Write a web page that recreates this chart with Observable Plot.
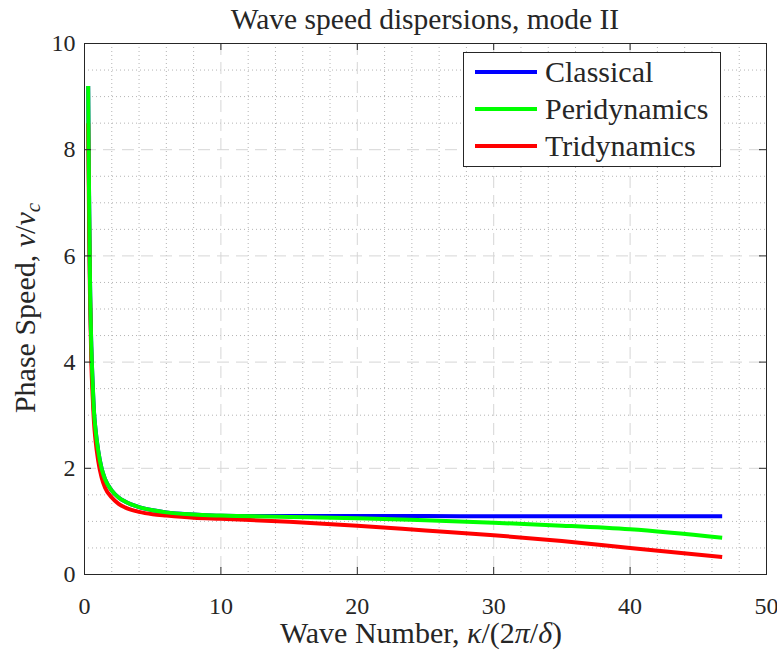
<!DOCTYPE html>
<html>
<head>
<meta charset="utf-8">
<script src="https://cdn.jsdelivr.net/npm/d3@7"></script>
<script src="https://cdn.jsdelivr.net/npm/@observablehq/plot@0.6"></script>
<style>
  html, body { margin: 0; padding: 0; background: #fff; }
  #wrap { position: relative; width: 777px; height: 651px; font-family: "Liberation Serif", "DejaVu Serif", "Noto Serif", serif; color: #262626; overflow: hidden; }
  #title { position: absolute; left: 84px; width: 682px; top: 1px; height: 36px; line-height: 36px; text-align: center; font-size: 29.5px; white-space: nowrap; }
  #chart { position: absolute; left: 0; top: 36px; }
  #xlabel { position: absolute; left: 80px; width: 682px; top: 618px; line-height: 30px; text-align: center; font-size: 30px; white-space: nowrap; }
  #ylabel { position: absolute; left: 25px; top: 308px; font-size: 30px; line-height: 30px; white-space: nowrap; transform: translate(-50%, -50%) rotate(-90deg); }
  #legend { position: absolute; left: 463px; top: 52px; width: 258px; height: 115px; box-sizing: border-box; background: #fff; border: 1px solid #262626; padding-top: 0px; }
  .row { display: flex; align-items: center; height: 37px; font-size: 30px; white-space: nowrap; }
  .row svg { margin-left: 11px; margin-right: 8px; }
  sub { font-size: 0.7em; vertical-align: -0.25em; line-height: 0; }
  svg text { font-family: "Liberation Serif", "DejaVu Serif", "Noto Serif", serif; }
</style>
</head>
<body>
<div id="wrap">
  <div id="title"></div>
  <div id="chart"></div>
  <div id="xlabel">Wave Number, <i>κ</i>/(2<i>π</i>/<i>δ</i>)</div>
  <div id="ylabel">Phase Speed, <i>v</i>/<i>v</i><sub><i>c</i></sub></div>
  <div id="legend"></div>
</div>
<script>
// ---- data ----
const titleText = "Wave speed dispersions, mode II";
const kappa = [0.27, 0.3, 0.35, 0.4, 0.5, 0.6, 0.7, 0.8, 1.0, 1.25, 1.5, 2, 2.5, 3, 4, 5, 6, 8, 10, 15, 20, 25, 30, 35, 40, 46.75];
const classical = [9.2, 8.1, 6.8, 5.6, 4.3, 3.6, 3.05, 2.75, 2.34, 2.0, 1.80, 1.58, 1.45, 1.37, 1.27, 1.21, 1.17, 1.13, 1.105, 1.10, 1.10, 1.10, 1.098, 1.098, 1.098, 1.098];
const peridynamics = [9.2, 8.1, 6.8, 5.6, 4.3, 3.6, 3.05, 2.75, 2.34, 2.0, 1.80, 1.58, 1.45, 1.37, 1.27, 1.21, 1.17, 1.13, 1.11, 1.085, 1.06, 1.02, 0.975, 0.92, 0.85, 0.69];
const tridynamics = [8.5, 7.6, 6.3, 5.3, 4.0, 3.35, 2.85, 2.55, 2.15, 1.83, 1.64, 1.45, 1.33, 1.26, 1.18, 1.135, 1.11, 1.07, 1.05, 0.995, 0.92, 0.83, 0.74, 0.63, 0.50, 0.33];
const seriesNames = ["Classical", "Peridynamics", "Tridynamics"];
const seriesColors = ["#0000ff", "#00ff00", "#ff0000"];
const xTicks = [0, 10, 20, 30, 40, 50];
const yTicks = [0, 2, 4, 6, 8, 10];
const xMinor = [2, 4, 6, 8, 12, 14, 16, 18, 22, 24, 26, 28, 32, 34, 36, 38, 42, 44, 46, 48];
const yMinor = [0.5, 1, 1.5, 2.5, 3, 3.5, 4.5, 5, 5.5, 6.5, 7, 7.5, 8.5, 9, 9.5];

// ---- build table ----
const seriesValues = [classical, peridynamics, tridynamics];
const rows = [];
seriesNames.forEach((name, s) => {
  kappa.forEach((k, i) => rows.push({series: name, kappa: k, v: seriesValues[s][i]}));
});
const drawOrder = ["Classical", "Tridynamics", "Peridynamics"];

document.getElementById("title").textContent = titleText;

const W = 777, H = 615, mT = 7, mB = 77, mL = 84, mR = 11;
const plotH = H - mT - mB, plotW = W - mL - mR;
const tickLen = 7;
const ink = "#262626";
const serif = '"Liberation Serif", "DejaVu Serif", "Noto Serif", serif';

const plot = Plot.plot({
  width: W, height: H,
  marginTop: mT, marginBottom: mB, marginLeft: mL, marginRight: mR,
  style: {fontFamily: serif, fontSize: "24px", color: ink, background: "#fff", overflow: "visible"},
  x: {domain: [0, 50], label: null},
  y: {domain: [0, 10], label: null},
  marks: [
    Plot.gridX(xMinor, {stroke: "#b4b4b4", strokeOpacity: 1, strokeDasharray: "1,3"}),
    Plot.gridY(yMinor, {stroke: "#b4b4b4", strokeOpacity: 1, strokeDasharray: "1,3"}),
    Plot.gridX(xTicks.slice(1, -1), {stroke: "#d6d6d6", strokeOpacity: 1, strokeDasharray: "12,7"}),
    Plot.gridY(yTicks.slice(1, -1), {stroke: "#d6d6d6", strokeOpacity: 1, strokeDasharray: "12,7"}),
    ...drawOrder.map(name => Plot.line(rows.filter(d => d.series === name), {
      x: "kappa", y: "v", stroke: seriesColors[seriesNames.indexOf(name)],
      strokeWidth: 4, curve: "monotone-x", strokeLinejoin: "round", strokeLinecap: "butt"
    })),
    Plot.frame({stroke: ink, strokeWidth: 1}),
    Plot.ruleX(xTicks, {x: d => d, stroke: ink, insetTop: plotH - tickLen}),
    Plot.ruleX(xTicks, {x: d => d, stroke: ink, insetBottom: plotH - tickLen}),
    Plot.ruleY(yTicks, {y: d => d, stroke: ink, insetRight: plotW - tickLen}),
    Plot.ruleY(yTicks, {y: d => d, stroke: ink, insetLeft: plotW - tickLen}),
    Plot.axisX(xTicks, {tickSize: 0, tickPadding: 22, fontSize: 24, fill: ink, tickFormat: d => String(d)}),
    Plot.axisY(yTicks, {tickSize: 0, tickPadding: 9, fontSize: 24, fill: ink, tickFormat: d => String(d)})
  ]
});
document.getElementById("chart").appendChild(plot);

// ---- legend ----
const legend = d3.select("#legend");
seriesNames.forEach((name, i) => {
  const row = legend.append("div").attr("class", "row");
  const sv = row.append("svg").attr("width", 62).attr("height", 8);
  sv.append("line").attr("x1", 0).attr("x2", 62).attr("y1", 4).attr("y2", 4)
    .attr("stroke", seriesColors[i]).attr("stroke-width", 4);
  row.append("span").text(name);
});
</script>
</body>
</html>
